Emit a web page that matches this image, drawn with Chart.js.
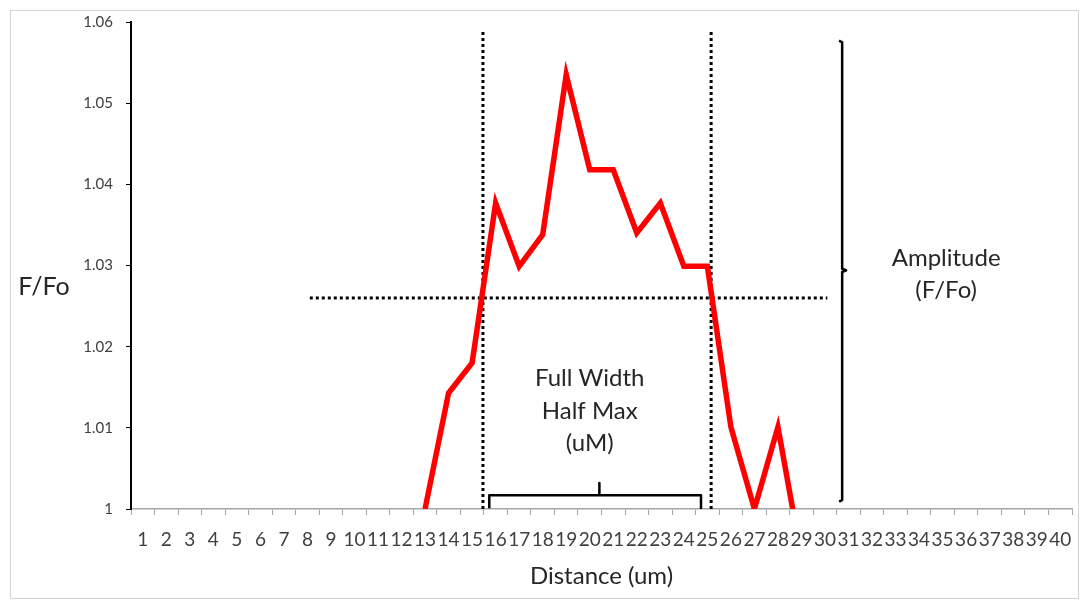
<!DOCTYPE html>
<html lang="en">
<head>
<meta charset="UTF-8" />
<title>F/Fo profile</title>
<script src="https://cdn.jsdelivr.net/npm/chart.js"></script>
<style>
  html, body { margin: 0; padding: 0; background: #fff; }
  #wrap { position: relative; width: 1085px; height: 603px; }
</style>
</head>
<body>
  <div id="wrap"><canvas id="profileChart"></canvas></div>

  <script>
    // distance (um) and F/Fo; null = not drawn
    const distance = [1,2,3,4,5,6,7,8,9,10,11,12,13,14,15,16,17,18,19,20,
                      21,22,23,24,25,26,27,28,29,30,31,32,33,34,35,36,37,38,39,40];
    const ffo = [null,null,null,null,null,null,null,null,null,null,null,null,
                 1.000,1.0143,1.018,1.0377,1.0299,1.0338,1.0535,1.0418,
                 1.0418,1.034,1.0377,1.0299,1.0299,1.0101,1.000,1.0101,0.994,
                 null,null,null,null,null,null,null,null,null,null,null];

    const yTickLabels = ['1', '1.01', '1.02', '1.03', '1.04', '1.05', '1.06'];

    // guide lines (data coordinates)
    const halfMaxLevel = 1.026;
    const fwhmLeft = 15.46;
    const fwhmRight = 25.16;
    const guideTop = 1.059;
    const halfMaxFrom = 8.1;
    const halfMaxTo = 30.1;

    // brackets
    const widthBracketX = [15.73, 15.73, 20.41, 20.41, 20.41, 24.73, 24.73];
    const widthBracketY = [1.0001, 1.0017, 1.0017, 1.0032, 1.0017, 1.0017, 1.0001];
    const ampBracketX = [30.6, 30.73, 30.73, 30.9, 30.73, 30.73, 30.6];
    const ampBracketY = [1.0577, 1.0575, 1.0296, 1.0294, 1.0292, 1.0011, 1.0009];

    // annotation text: [text, x, y]
    const notes = [
      ['Full Width', 20.0, 1.0161],
      ['Half Max', 20.0, 1.0121],
      ['(uM)', 20.0, 1.0081],
      ['Amplitude', 35.15, 1.0309],
      ['(F/Fo)', 35.15, 1.0269]
    ];
    const yTitle = 'F/Fo';
    const xTitle = 'Distance (um)';

    const FONT = 'Lato, "Open Sans", sans-serif';
    const pts = (xs, ys) => xs.map((x, i) => ({ x: x, y: ys[i] }));

    const notesPlugin = {
      id: 'notes',
      beforeDraw(chart) {
        const c = chart.ctx;
        c.save();
        c.strokeStyle = '#d4d4d4';
        c.lineWidth = 1;
        c.strokeRect(10.5, 10.5, chart.width - 17, chart.height - 15);
        c.restore();
      },
      afterDatasetsDraw(chart) {
        const c = chart.ctx;
        const xs = chart.scales.x, ys = chart.scales.y;
        c.save();
        c.fillStyle = '#262626';
        c.font = '24px ' + FONT;
        c.textAlign = 'center';
        c.textBaseline = 'middle';
        notes.forEach(n => {
          c.fillText(n[0], xs.getPixelForValue(n[1]), ys.getPixelForValue(n[2]));
        });
        c.font = '25px ' + FONT;
        c.fillText(yTitle, 44, ys.getPixelForValue(1.0273));
        c.restore();
      }
    };

    new Chart(document.getElementById('profileChart'), {
      type: 'line',
      data: {
        datasets: [
          {
            label: 'F/Fo',
            data: pts(distance, ffo),
            borderColor: '#ff0000',
            borderWidth: 5.5,
            pointRadius: 0,
            tension: 0,
            spanGaps: false
          },
          {
            data: [{ x: fwhmLeft, y: 1 }, { x: fwhmLeft, y: guideTop }],
            borderColor: '#000', borderWidth: 3, borderDash: [3, 3], pointRadius: 0
          },
          {
            data: [{ x: fwhmRight, y: 1 }, { x: fwhmRight, y: guideTop }],
            borderColor: '#000', borderWidth: 3, borderDash: [3, 3], pointRadius: 0
          },
          {
            data: [{ x: halfMaxFrom, y: halfMaxLevel }, { x: halfMaxTo, y: halfMaxLevel }],
            borderColor: '#000', borderWidth: 3, borderDash: [3, 3], pointRadius: 0
          },
          {
            data: pts(widthBracketX, widthBracketY),
            borderColor: '#000', borderWidth: 2.5, pointRadius: 0, borderJoinStyle: 'round'
          },
          {
            data: pts(ampBracketX, ampBracketY),
            borderColor: '#000', borderWidth: 2.5, pointRadius: 0, borderJoinStyle: 'round'
          }
        ]
      },
      options: {
        responsive: true,
        maintainAspectRatio: false,
        animation: false,
        layout: { padding: { left: 0, right: 12, top: 22, bottom: 0 } },
        plugins: {
          legend: { display: false },
          tooltip: { enabled: false }
        },
        scales: {
          x: {
            type: 'linear',
            min: 0.5,
            max: 40.5,
            afterBuildTicks: s => {
              const t = [];
              for (let v = 0.5; v <= 40.5; v += 0.5) t.push({ value: v });
              s.ticks = t;
            },
            afterFit: s => { s.height = 94; },
            grid: {
              drawOnChartArea: false,
              tickLength: 6,
              color: ctx => (ctx.tick && Number.isInteger(ctx.tick.value)) ? 'rgba(0,0,0,0)' : '#a6a6a6'
            },
            border: { color: '#a6a6a6', width: 1.5 },
            ticks: {
              autoSkip: false,
              maxRotation: 0,
              minRotation: 0,
              padding: 13,
              color: '#404040',
              font: { family: FONT, size: 19 },
              callback: v => Number.isInteger(v) ? String(v) : ''
            },
            title: {
              display: true,
              text: xTitle,
              color: '#262626',
              font: { family: FONT, size: 24 },
              padding: { top: 0, bottom: 12 }
            }
          },
          y: {
            min: 1,
            max: 1.06,
            afterFit: s => { s.width = 131; },
            grid: {
              drawOnChartArea: false,
              tickLength: 5,
              color: '#000'
            },
            border: { color: '#000', width: 2 },
            ticks: {
              stepSize: 0.01,
              padding: 13,
              color: '#404040',
              font: { family: FONT, size: 15 },
              callback: v => yTickLabels[Math.round((v - 1) * 100)]
            }
          }
        }
      },
      plugins: [notesPlugin]
    });
  </script>
</body>
</html>
